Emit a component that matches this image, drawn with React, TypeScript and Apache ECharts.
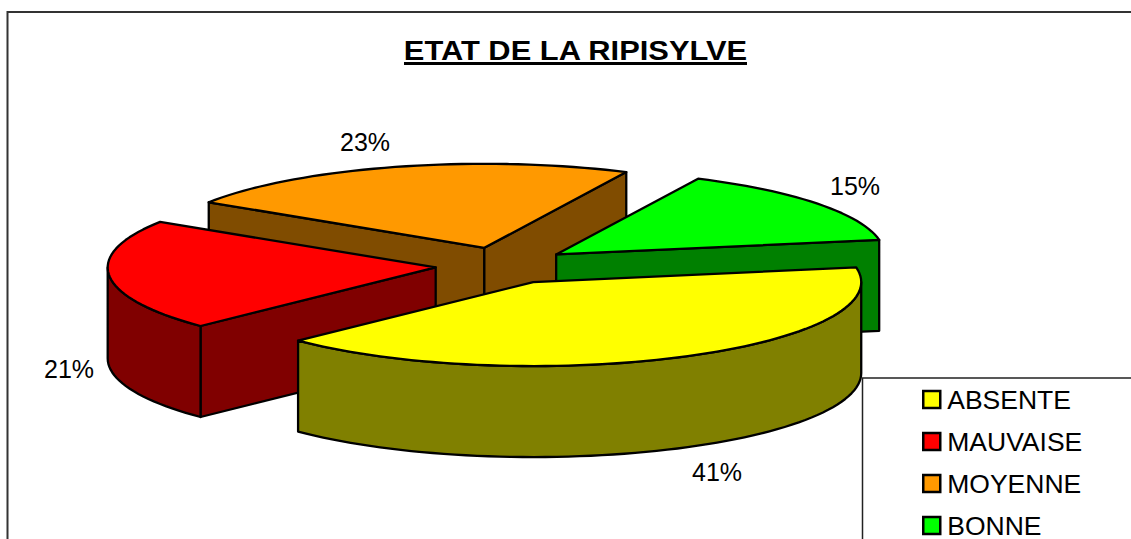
import React, { useEffect, useRef } from "react";
import * as echarts from "echarts";

const titleText = "ETAT DE LA RIPISYLVE";
const categories = ["ABSENTE", "MAUVAISE", "MOYENNE", "BONNE"];
const values = [40.5, 21.4, 23.0, 15.1];

const topColors = ["#FFFF00", "#FF0000", "#FF9900", "#00FF00"];
const wallColors = ["#808000", "#800000", "#804C00", "#008000"];
const drawSequence = [2, 3, 1, 0]; // orange at the back, yellow in front
const labelAnchors = [
  [717, 472],
  [69, 369],
  [365, 142],
  [855, 186],
];

const FONT = '"Liberation Sans", Arial, sans-serif';
const CX = 502.6;
const CY = 265.6;
const RX = 328;
const RY = 84;
const DEPTH = 91;
const EXPLODE_X = 0.205;
const EXPLODE_Y = 0.22;
const START_DEG = -10;

const total = values.reduce((a, b) => a + b, 0);
const toRad = (d: number) => (d * Math.PI) / 180;

function arcPoints(ox: number, oy: number, a0: number, a1: number, dy = 0) {
  const pts: number[][] = [];
  const n = Math.max(2, Math.ceil(Math.abs(a1 - a0) / 2));
  for (let i = 0; i <= n; i++) {
    const t = toRad(a0 + ((a1 - a0) * i) / n);
    pts.push([ox + RX * Math.cos(t), oy + RY * Math.sin(t) + dy]);
  }
  return pts;
}

function makeRender(index: number) {
  return (_params: any, api: any) => {
    const value = api.value(0);
    const before = values.slice(0, index).reduce((a, b) => a + b, 0);
    const a0 = START_DEG + (before / total) * 360;
    const a1 = a0 + (value / total) * 360;
    const mid = toRad((a0 + a1) / 2);
    const ox = CX + EXPLODE_X * RX * Math.cos(mid);
    const oy = CY + EXPLODE_Y * RY * Math.sin(mid);
    const wall = wallColors[index];
    const lineStyle = { stroke: "#000", lineWidth: 2.3, lineJoin: "round" };
    const children: any[] = [];

    const cutWall = (angle: number) => {
      const t = toRad(angle);
      const ex = ox + RX * Math.cos(t);
      const ey = oy + RY * Math.sin(t);
      children.push({
        type: "polygon",
        shape: { points: [[ox, oy], [ex, ey], [ex, ey + DEPTH], [ox, oy + DEPTH]] },
        style: { fill: wall, ...lineStyle },
      });
    };
    // only the cut faces that turn towards the viewer
    if (Math.cos(toRad(a0)) < 0) cutWall(a0);
    if (Math.cos(toRad(a1)) > 0) cutWall(a1);

    // outer wall: the front half of the rim only (0..180 degrees)
    const v0 = Math.max(a0, 0);
    const v1 = Math.min(a1, 180);
    if (v1 > v0) {
      const top = arcPoints(ox, oy, v0, v1);
      const bottom = arcPoints(ox, oy, v1, v0, DEPTH);
      children.push({
        type: "polygon",
        shape: { points: top.concat(bottom) },
        style: { fill: wall, ...lineStyle },
      });
    }

    children.push({
      type: "polygon",
      shape: { points: [[ox, oy], ...arcPoints(ox, oy, a0, a1)] },
      style: { fill: topColors[index], ...lineStyle },
    });

    children.push({
      type: "text",
      x: labelAnchors[index][0],
      y: labelAnchors[index][1],
      style: {
        text: `${Math.round(value)}%`,
        fill: "#000",
        font: `25px ${FONT}`,
        align: "center",
        verticalAlign: "middle",
      },
    });
    return { type: "group", children };
  };
}

export default function App() {
  const ref = useRef<HTMLDivElement>(null);
  useEffect(() => {
    const chart = echarts.init(ref.current!, undefined, { renderer: "svg" });
    chart.setOption({
      animation: false,
      backgroundColor: "#fff",
      legend: {
        orient: "vertical",
        left: 922,
        top: 386,
        height: 200,
        padding: 0,
        itemWidth: 17,
        itemHeight: 17,
        itemGap: 15,
        selectedMode: false,
        data: categories.map((name, i) => ({
          name,
          icon: "rect",
          itemStyle: { color: topColors[i], borderColor: "#000", borderWidth: 2.5 },
        })),
        textStyle: { fontFamily: FONT, fontSize: 26.5, color: "#000", padding: [0, 0, 0, 2] },
        z: 10,
      },
      graphic: [
        {
          type: "rect",
          silent: true,
          z: -1,
          shape: { x: 7.5, y: 12, width: 1200, height: 600 },
          style: { fill: "#fff", stroke: "#333", lineWidth: 2 },
        },
        {
          type: "rect",
          silent: true,
          z: 8,
          shape: { x: 862.5, y: 378, width: 400, height: 300 },
          style: { fill: "#fff", stroke: "#222", lineWidth: 1.5 },
        },
        {
          type: "text",
          z: 9,
          x: 575.5,
          y: 50,
          scaleX: 1.102,
          style: {
            text: titleText,
            fill: "#000",
            font: `bold 28px ${FONT}`,
            align: "center",
            verticalAlign: "middle",
          },
        },
        {
          type: "rect",
          z: 9,
          silent: true,
          shape: { x: 404, y: 62, width: 343, height: 3 },
          style: { fill: "#000" },
        },
      ],
      series: drawSequence.map((i) => ({
        type: "custom",
        name: categories[i],
        coordinateSystem: "none",
        silent: true,
        itemStyle: { color: topColors[i] },
        data: [[values[i]]],
        renderItem: makeRender(i),
      })),
    });
    return () => chart.dispose();
  }, []);
  return (
    <div
      ref={ref}
      style={{ position: "absolute", left: 0, top: 0, width: 1131, height: 539 }}
    />
  );
}
